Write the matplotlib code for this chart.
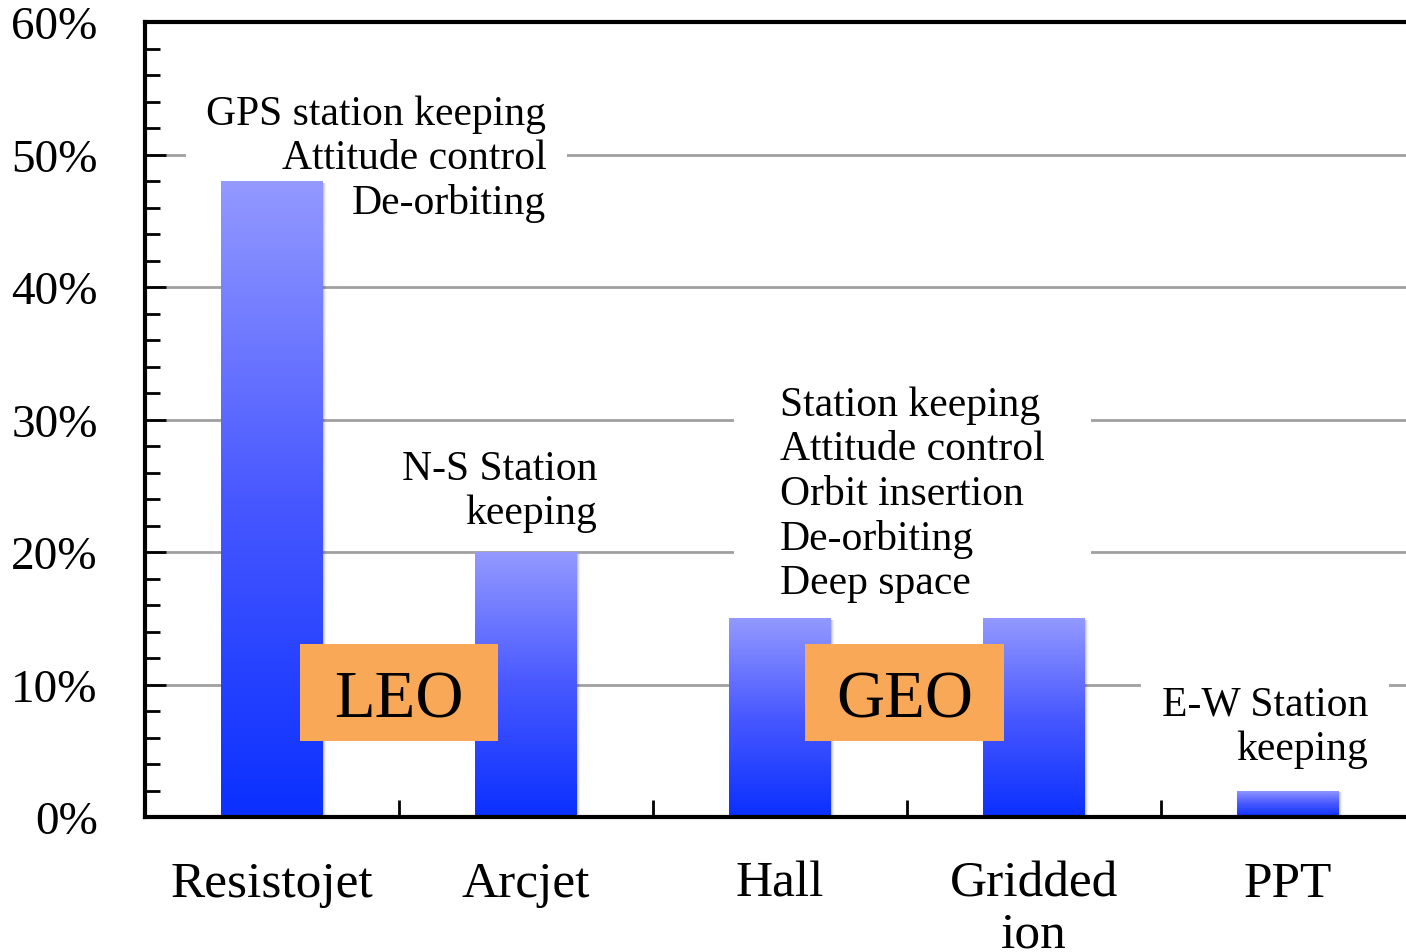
import numpy as np
import matplotlib.pyplot as plt
from matplotlib.colors import LinearSegmentedColormap
from matplotlib.patches import Rectangle
from matplotlib.ticker import MultipleLocator, FixedLocator

# share of each thruster type
thrusters = ["Resistojet", "Arcjet", "Hall", "Gridded\nion", "PPT"]
share = [48, 20, 15, 15, 2]
yticks = [0, 10, 20, 30, 40, 50, 60]

# mission notes and the orbit labels
notes = ["GPS station keeping\nAttitude control\nDe-orbiting",
         "N-S Station\nkeeping",
         "Station keeping\nAttitude control\nOrbit insertion\nDe-orbiting\nDeep space",
         "E-W Station\nkeeping"]
orbits = ["LEO", "GEO"]

plt.rcParams['font.family'] = ['Liberation Serif', 'DejaVu Serif']

fig = plt.figure(figsize=(14.06, 9.53), dpi=100)
ax = fig.add_axes([145 / 1406, 135 / 953, 1270 / 1406, 795 / 953])

x = np.arange(len(thrusters))
blues = LinearSegmentedColormap.from_list("bars", ["#0a30ff", "#4858ff", "#9399ff"])
grad = np.linspace(0, 1, 256).reshape(-1, 1)

bars = ax.bar(x, share, width=0.4, color="#0a30ff", zorder=3, linewidth=0)
for b in bars:
    bx, bw, bh = b.get_x(), b.get_width(), b.get_height()
    # soft shadow on the right side
    for k, a in enumerate([0.10, 0.07, 0.04, 0.02]):
        ax.add_patch(Rectangle((bx + bw, 0), 0.004 * (k + 1), bh - 0.15,
                               color="black", alpha=a, lw=0, zorder=2.5))
    img = ax.imshow(grad, extent=[bx, bx + bw, 0, bh], origin="lower",
                    cmap=blues, aspect="auto", zorder=3.1)
    img.set_clip_path(b)

ax.set_xlim(-0.5, 4.5)
ax.set_ylim(0, 60)

# grid lines
for yv in yticks[1:-1]:
    ax.axhline(yv, color="#a0a0a0", lw=2, zorder=0.5)

# notes with white backing that cuts the grid lines
txt = dict(fontsize=30, linespacing=1.2, zorder=1, va="center")
ax.text(1.08, 49.7, notes[0], ha="right", multialignment="right",
        bbox=dict(boxstyle="square,pad=0.5", fc="white", ec="none"), **txt)
ax.text(1.28, 24.6, notes[1], ha="right", multialignment="right",
        bbox=dict(boxstyle="square,pad=0.35", fc="white", ec="none"), **txt)
ax.text(2.0, 24.4, notes[2], ha="left", multialignment="left",
        bbox=dict(boxstyle="square,pad=1.1", fc="white", ec="none"), **txt)
ax.text(4.315, 6.8, notes[3], ha="right", multialignment="right",
        bbox=dict(boxstyle="square,pad=0.5", fc="white", ec="none"), **txt)

# orbit boxes
for cx, lab in zip([0.5, 2.49], orbits):
    ax.add_patch(Rectangle((cx - 0.39, 5.7), 0.78, 7.35, color="#f9a857",
                           lw=0, zorder=4))
    ax.text(cx, 8.8, lab, ha="center", va="center", fontsize=48, zorder=5)

# axes styling
for s in ["left", "bottom", "top"]:
    ax.spines[s].set_linewidth(3)
    ax.spines[s].set_zorder(6)
ax.spines["right"].set_visible(False)

ax.yaxis.set_major_locator(FixedLocator(yticks))
ax.yaxis.set_minor_locator(MultipleLocator(2))
ax.set_yticklabels([f"{v}%" for v in yticks])
ax.tick_params(axis="y", which="major", direction="in", length=15, width=2,
               labelsize=34, pad=34)
ax.tick_params(axis="y", which="minor", direction="in", length=11, width=2)

ax.xaxis.set_major_locator(FixedLocator(x + 0.5))
ax.xaxis.set_minor_locator(FixedLocator(x))
ax.set_xticklabels([""] * len(x))
ax.set_xticklabels(thrusters, minor=True)
ax.tick_params(axis="x", which="both", direction="in", length=12, width=2,
               top=False)
ax.tick_params(axis="x", which="minor", labelsize=37, pad=31)
for lab in ax.get_xticklabels(minor=True):
    lab.set_linespacing(1.12)

fig.savefig("out.png", dpi=100)
